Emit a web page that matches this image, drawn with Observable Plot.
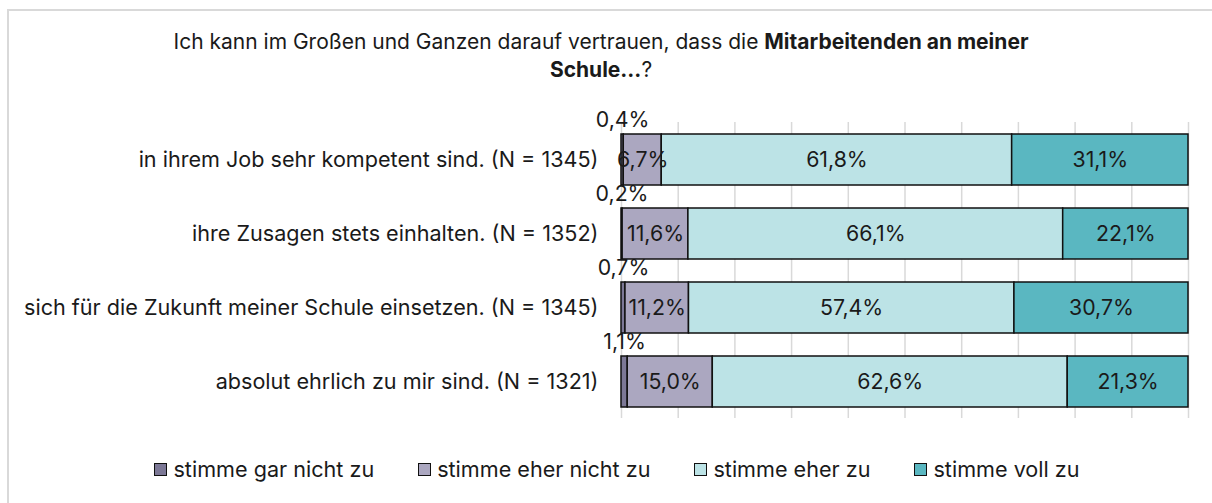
<!DOCTYPE html>
<html>
<head>
<meta charset="utf-8">
<script src="https://cdn.jsdelivr.net/npm/d3@7"></script>
<script src="https://cdn.jsdelivr.net/npm/@observablehq/plot@0.6"></script>
<style>
  html, body { margin: 0; padding: 0; background: #fff; }
  body { width: 1212px; height: 503px; overflow: hidden; position: relative; font-family: "Inter", "Roboto", sans-serif; color: #1a1a1a; }
  #frame { position: absolute; left: 7px; top: 9px; width: 1260px; height: 560px; border: 2px solid #d9d9d9; box-sizing: border-box; }
  #title { position: absolute; left: 0; width: 1202px; top: 28px; text-align: center; font-size: 21px; line-height: 28px; }
  #title b { font-weight: 700; }
  #chart { position: absolute; left: 0; top: 100px; }
  #legend { position: absolute; left: 0; width: 1234px; top: 457px; display: flex; justify-content: center; font-size: 21.6px; line-height: 24px; }
  .item { display: flex; align-items: center; margin: 0 22px; }
  .sw { width: 13px; height: 13px; border: 1.5px solid #111; box-sizing: border-box; margin-right: 6px; }
</style>
</head>
<body>
<div id="frame"></div>
<div id="title">Ich kann im Großen und Ganzen darauf vertrauen, dass die <b>Mitarbeitenden an meiner</b><br><b>Schule...</b>?</div>
<div id="chart"></div>
<div id="legend"></div>
<script>
const categories = [
  "in ihrem Job sehr kompetent sind. (N = 1345)",
  "ihre Zusagen stets einhalten. (N = 1352)",
  "sich für die Zukunft meiner Schule einsetzen. (N = 1345)",
  "absolut ehrlich zu mir sind. (N = 1321)"
];
const seriesNames = ["stimme gar nicht zu", "stimme eher nicht zu", "stimme eher zu", "stimme voll zu"];
const garNicht = [0.4, 0.2, 0.7, 1.1];
const eherNicht = [6.7, 11.6, 11.2, 15.0];
const eherZu = [61.8, 66.1, 57.4, 62.6];
const vollZu = [31.1, 22.1, 30.7, 21.3];
const colors = ["#7c7896", "#aba7c0", "#bce3e6", "#5ab7c1"];
const gridTicks = [0, 10, 20, 30, 40, 50, 60, 70, 80, 90, 100];

const seriesValues = [garNicht, eherNicht, eherZu, vollZu];
const rows = [];
categories.forEach((c, i) => {
  let x = 0;
  seriesValues.forEach((vals, s) => {
    const v = vals[i];
    rows.push({cat: c, series: seriesNames[s], s, x1: x, x2: x + v, v});
    x += v;
  });
});
const fmt = v => v.toFixed(1).replace(".", ",") + "%";

const plot = Plot.plot({
  width: 1212,
  height: 325,
  marginLeft: 621,
  marginRight: 24,
  marginTop: 22,
  marginBottom: 7,
  style: {fontFamily: "Inter, Roboto, sans-serif", fontSize: "21px", color: "#1a1a1a", background: "transparent", overflow: "visible"},
  x: {domain: [0, 100], axis: null},
  y: {domain: categories, paddingInner: 0.314, paddingOuter: 0.15, label: null, axis: null},
  color: {domain: seriesNames, range: colors},
  marks: [
    Plot.ruleX(gridTicks, {stroke: "#d9d9d9", strokeWidth: 1.5}),
    Plot.barX(rows, {y: "cat", x1: "x1", x2: "x2", fill: "series", stroke: "#111", strokeWidth: 1.5}),
    Plot.text(rows.filter(d => d.s > 0), {y: "cat", x: d => (d.x1 + d.x2) / 2, text: d => fmt(d.v), fill: "#1a1a1a", fontSize: 21.3}),
    Plot.text(rows.filter(d => d.s === 0), {y: "cat", x: d => (d.x1 + d.x2) / 2, text: d => fmt(d.v), fill: "#1a1a1a", fontSize: 21.3, dy: -40}),
    Plot.axisY({tickSize: 0, tickPadding: 23, fontSize: 21.6, fill: "#1a1a1a", label: null})
  ]
});
document.getElementById("chart").appendChild(plot);

const legend = document.getElementById("legend");
seriesNames.forEach((n, i) => {
  const it = document.createElement("div");
  it.className = "item";
  const sw = document.createElement("div");
  sw.className = "sw";
  sw.style.background = colors[i];
  const t = document.createElement("span");
  t.textContent = n;
  it.appendChild(sw);
  it.appendChild(t);
  legend.appendChild(it);
});
</script>
</body>
</html>
